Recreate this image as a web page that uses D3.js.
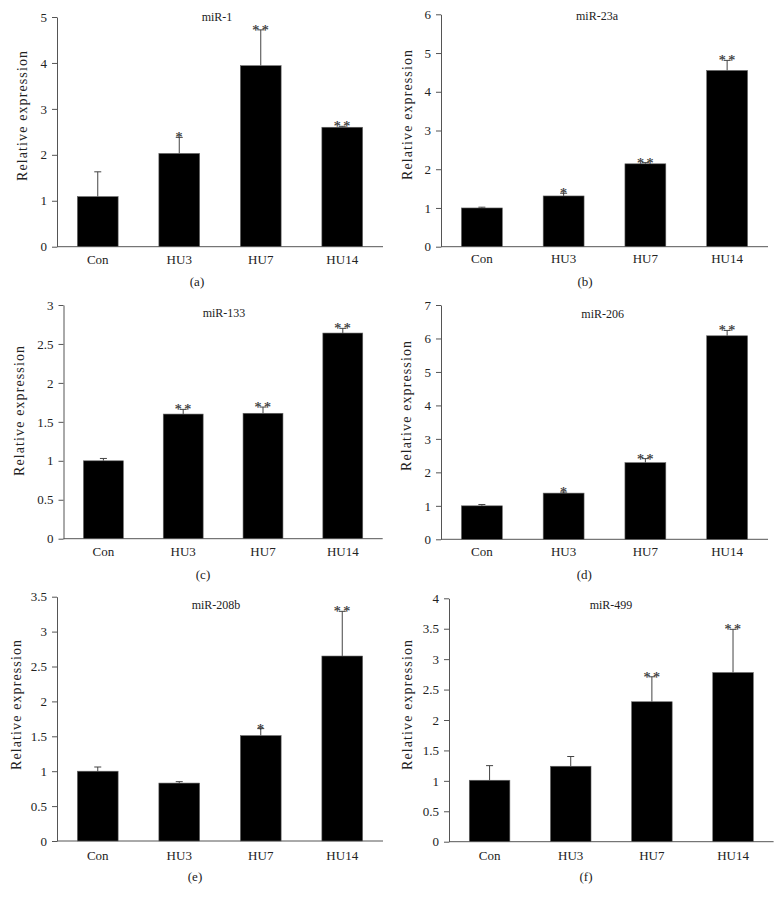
<!DOCTYPE html>
<html><head><meta charset="utf-8">
<script src="https://cdn.jsdelivr.net/npm/d3@7"></script>
<style>
html,body{margin:0;padding:0;background:#fff;}
svg{display:block;}
text{font-family:"Liberation Serif","DejaVu Serif",serif;fill:#222;}
</style></head>
<body>
<svg id="chart" width="782" height="903"></svg>
<script>
// ---- data ----
const categories = ["Con", "HU3", "HU7", "HU14"];
const titles = ["miR-1", "miR-23a", "miR-133", "miR-206", "miR-208b", "miR-499"];
const panelLetters = ["(a)", "(b)", "(c)", "(d)", "(e)", "(f)"];
const mir1Values   = [1.09, 2.03, 3.94, 2.60];
const mir1Errors   = [0.54, 0.35, 0.78, 0.02];
const mir1Stars    = ["", "*", "**", "**"];
const mir23aValues = [1.00, 1.31, 2.14, 4.55];
const mir23aErrors = [0.02, 0.07, 0.03, 0.26];
const mir23aStars  = ["", "*", "**", "**"];
const mir133Values = [1.00, 1.60, 1.61, 2.64];
const mir133Errors = [0.03, 0.06, 0.08, 0.06];
const mir133Stars  = ["", "**", "**", "**"];
const mir206Values = [1.00, 1.38, 2.29, 6.08];
const mir206Errors = [0.04, 0.03, 0.12, 0.16];
const mir206Stars  = ["", "*", "**", "**"];
const mir208bValues = [1.00, 0.83, 1.51, 2.65];
const mir208bErrors = [0.06, 0.02, 0.10, 0.64];
const mir208bStars  = ["", "", "*", "**"];
const mir499Values = [1.01, 1.24, 2.30, 2.78];
const mir499Errors = [0.24, 0.16, 0.41, 0.71];
const mir499Stars  = ["", "", "**", "**"];
const yMaxes  = [5, 6, 3, 7, 3.5, 4];
const yStepsT = [1, 1, 0.5, 1, 0.5, 0.5];

const seriesValues = [mir1Values, mir23aValues, mir133Values, mir206Values, mir208bValues, mir499Values];
const seriesErrors = [mir1Errors, mir23aErrors, mir133Errors, mir206Errors, mir208bErrors, mir499Errors];
const seriesStars  = [mir1Stars, mir23aStars, mir133Stars, mir206Stars, mir208bStars, mir499Stars];

// ---- layout (positions only) ----
const layout = [
  {x0:57,    x1:383,   yTop:17,    yBot:246.7, tx:217,   ty:21,  cy:264, lx:197,   ly:286, ylx:27,    yly:116},
  {x0:441,   x1:768,   yTop:14.3,  yBot:246.7, tx:597,   ty:20,  cy:263, lx:585,   ly:286, ylx:411.5, yly:115},
  {x0:63.5,  x1:382.7, yTop:305,   yBot:538.7, tx:224,   ty:317, cy:556, lx:203,   ly:579, ylx:24,    yly:411},
  {x0:441,   x1:768,   yTop:305,   yBot:539.3, tx:602.7, ty:318, cy:556, lx:584.3, ly:579, ylx:411,   yly:406},
  {x0:57,    x1:383,   yTop:596.7, yBot:841,   tx:216,   ty:609, cy:860, lx:195,   ly:881, ylx:21,    yly:705},
  {x0:449,   x1:773.6, yTop:598.3, yBot:841.7, tx:611,   ty:609, cy:860, lx:586,   ly:881, ylx:411.5, yly:705}
];

const svg = d3.select("#chart");
const axisColor = "#555";

layout.forEach((L, i) => {
  const g = svg.append("g");
  const x = d3.scaleBand().domain(categories).range([L.x0, L.x1]).paddingInner(0.5).paddingOuter(0.25);
  const y = d3.scaleLinear().domain([0, yMaxes[i]]).range([L.yBot, L.yTop]);
  const ticks = d3.range(0, yMaxes[i] + 1e-9, yStepsT[i]);

  // y axis
  const yAxis = d3.axisLeft(y).tickValues(ticks).tickSize(5).tickSizeOuter(0)
      .tickFormat(d => String(+d.toFixed(1)));
  const ya = g.append("g").attr("transform", `translate(${L.x0},0)`).call(yAxis);
  ya.select(".domain").attr("stroke", axisColor).attr("stroke-width", 1);
  ya.selectAll(".tick line").attr("stroke", axisColor);
  ya.selectAll(".tick text").attr("font-size", 13).attr("x", -10).attr("fill", "#222");

  // x axis line
  g.append("line").attr("x1", L.x0).attr("x2", L.x1).attr("y1", L.yBot).attr("y2", L.yBot)
    .attr("stroke", axisColor).attr("stroke-width", 1);

  const vals = seriesValues[i], errs = seriesErrors[i], stars = seriesStars[i];
  const data = categories.map((c, k) => ({c, v: vals[k], e: errs[k], s: stars[k]}));

  // error bars (upper only)
  data.forEach(d => {
    const cx = x(d.c) + x.bandwidth() / 2;
    g.append("line").attr("x1", cx).attr("x2", cx).attr("y1", y(d.v)).attr("y2", y(d.v + d.e))
      .attr("stroke", "#444").attr("stroke-width", 1);
    g.append("line").attr("x1", cx - 3.5).attr("x2", cx + 3.5).attr("y1", y(d.v + d.e)).attr("y2", y(d.v + d.e))
      .attr("stroke", "#444").attr("stroke-width", 1);
  });

  // bars
  g.selectAll("rect.bar").data(data).join("rect").attr("class", "bar")
    .attr("x", d => x(d.c)).attr("width", x.bandwidth())
    .attr("y", d => y(d.v)).attr("height", d => L.yBot - y(d.v))
    .attr("fill", "#000").attr("stroke", "#666").attr("stroke-width", 0.6);

  // significance stars
  g.selectAll("text.star").data(data.filter(d => d.s)).join("text").attr("class", "star")
    .attr("x", d => x(d.c) + x.bandwidth() / 2 + 1).attr("y", d => y(d.v + d.e) + 5)
    .attr("text-anchor", "middle").attr("font-size", 14).attr("letter-spacing", 2.5)
    .attr("fill", "#444").attr("stroke", "#444").attr("stroke-width", 0.2)
    .text(d => d.s);

  // category labels
  g.selectAll("text.cat").data(categories).join("text").attr("class", "cat")
    .attr("x", d => x(d) + x.bandwidth() / 2).attr("y", L.cy)
    .attr("text-anchor", "middle").attr("font-size", 13).text(d => d);

  // title
  g.append("text").attr("x", L.tx).attr("y", L.ty).attr("text-anchor", "middle")
    .attr("font-size", 12).text(titles[i]);

  // panel letter
  g.append("text").attr("x", L.lx).attr("y", L.ly).attr("text-anchor", "middle")
    .attr("font-size", 13).text(panelLetters[i]);

  // y label
  g.append("text").attr("transform", `translate(${L.ylx},${L.yly}) rotate(-90)`)
    .attr("text-anchor", "middle").attr("font-size", 14)
    .attr("textLength", 130).attr("lengthAdjust", "spacing")
    .text("Relative expression");
});
</script>
</body></html>
